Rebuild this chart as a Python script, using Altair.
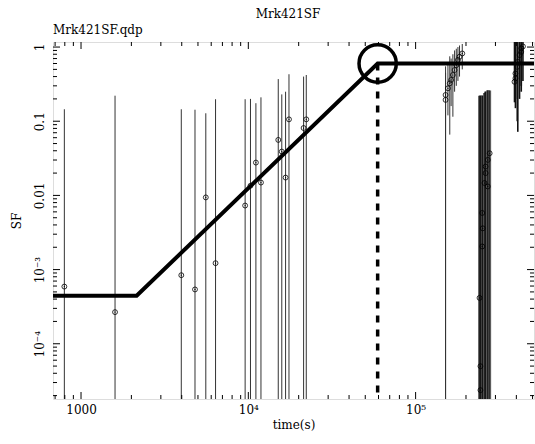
import altair as alt
import pandas as pd

# ---- structure-function points (time lag in s, SF value, error-bar ends) ----
FLOOR = 1e-6  # lower error ends that fall below the plotted range

left_t = [795, 1597, 3975, 4800, 5570, 6370, 9570, 10300, 11100, 11900,
          15100, 15850, 16700, 17500, 21400, 22200]
left_sf = [5.9e-4, 2.67e-4, 8.4e-4, 5.4e-4, 9.4e-3, 1.22e-3, 7.3e-3, 0.0135,
           0.0277, 0.0149, 0.056, 0.039, 0.0174, 0.106, 0.081, 0.106]
left_hi = [0.145, 0.221, 0.145, 0.143, 0.128, 0.198, 0.198, 0.2, 0.175, 0.21,
           0.37, 0.23, 0.25, 0.43, 0.40, 0.42]

a_t = [1.51e5, 1.51e5, 1.56e5, 1.60e5, 1.63e5, 1.67e5, 1.71e5, 1.75e5, 1.79e5, 1.83e5, 1.90e5]
a_sf = [0.194, 0.226, 0.278, 0.324, 0.36, 0.42, 0.49, 0.57, 0.67, 0.74, 0.82]
a_lo = [FLOOR, FLOOR, 0.12, 0.066, 0.16, 0.115, 0.25, 0.3, 0.35, 0.4, 0.5]
a_hi = [0.45, 0.55, 0.6, 0.75, 0.7, 0.8, 0.9, 0.95, 1.0, 1.05, 1.1]

b_t = [2.77e5, 2.70e5, 2.62e5, 2.62e5, 2.58e5, 2.70e5, 2.50e5, 2.52e5, 2.50e5, 2.41e5, 2.44e5, 2.44e5]
b_sf = [0.037, 0.0301, 0.0245, 0.020, 0.0147, 0.0132, 5.8e-3, 3.6e-3, 2.05e-3, 4.15e-4, 4.98e-5, 2.37e-5]
b_hi = [0.26, 0.26, 0.25, 0.25, 0.24, 0.26, 0.22, 0.22, 0.22, 0.22, 0.22, 0.22]

c_t = [4.38e5, 4.28e5, 4.28e5, 4.18e5, 4.08e5, 4.05e5, 3.95e5, 3.95e5, 3.90e5]
c_sf = [1.02, 0.96, 0.86, 0.78, 0.63, 0.54, 0.44, 0.38, 0.34]
c_lo = [0.35, 0.3, 0.25, 0.2, 0.072, 0.1, 0.15, 0.2, 0.18]
c_hi = [1.3, 1.3, 1.3, 1.3, 1.3, 1.3, 1.3, 1.3, 1.3]

# ---- broken power-law model ----
model_t = [680, 2150, 59300, 5.1e5]
model_sf = [4.43e-4, 4.43e-4, 0.60, 0.60]
break_t = 59300
break_sf = 0.60

# ---- axis ticks ----
x_major = [1000, 1e4, 1e5]
x_minor = [700, 800, 900] + [m * 1000 for m in range(2, 10)] + \
          [m * 1e4 for m in range(2, 10)] + [m * 1e5 for m in range(2, 6)]
y_major = [1e-4, 1e-3, 1e-2, 0.1, 1]
y_minor = [m * 1e-5 for m in range(2, 10)] + [m * 1e-4 for m in range(2, 10)] + \
          [m * 1e-3 for m in range(2, 10)] + [m * 1e-2 for m in range(2, 10)] + \
          [m * 1e-1 for m in range(2, 10)]

pts = pd.concat([
    pd.DataFrame({"t": left_t, "sf": left_sf, "lo": [FLOOR] * len(left_t), "hi": left_hi, "grp": "L"}),
    pd.DataFrame({"t": a_t, "sf": a_sf, "lo": a_lo, "hi": a_hi, "grp": "A"}),
    pd.DataFrame({"t": b_t, "sf": b_sf, "lo": [FLOOR] * len(b_t), "hi": b_hi, "grp": "B"}),
    pd.DataFrame({"t": c_t, "sf": c_sf, "lo": c_lo, "hi": c_hi, "grp": "C"}),
], ignore_index=True)
model = pd.DataFrame({"t": model_t, "sf": model_sf})
brk = pd.DataFrame({"t": [break_t], "sf": [break_sf], "lo": [FLOOR]})

FONT = "DejaVu Serif"
W, H = 481, 357

xs = alt.Scale(type="log", domain=[680, 5.1e5], nice=False)
ys = alt.Scale(type="log", domain=[1.8e-5, 1.17], nice=False)

x_axis = alt.Axis(values=x_major, ticks=False, domain=False, grid=False,
                  labelExpr="datum.value == 1000 ? '1000' : datum.value == 10000 ? '10⁴' : '10⁵'",
                  labelFont=FONT, labelFontSize=12, labelColor="black", labelPadding=5,
                  title="time(s)", titleFont=FONT, titleFontSize=12, titleFontWeight="normal",
                  titleColor="black", titlePadding=4)
y_axis = alt.Axis(values=y_major, ticks=False, domain=False, grid=False,
                  labelExpr="datum.value == 1 ? '1' : datum.value == 0.1 ? '0.1' : datum.value == 0.01 ? '0.01' : datum.value == 0.001 ? '10⁻³' : '10⁻⁴'",
                  labelAngle=270, labelAlign="center", labelBaseline="bottom",
                  labelFont=FONT, labelFontSize=12, labelColor="black", labelPadding=7,
                  title="SF", titleFont=FONT, titleFontSize=12, titleFontWeight="normal",
                  titleColor="black", titlePadding=10)


def X(f):
    return alt.X(f"{f}:Q", scale=xs, axis=x_axis)


def Y(f):
    return alt.Y(f"{f}:Q", scale=ys, axis=y_axis)


base = alt.Chart(pts)

bars_thin = base.mark_rule(clip=True, color="#333", strokeWidth=1).encode(
    x=X("t"), y=Y("lo"), y2="hi:Q").transform_filter("datum.grp == 'L' || datum.grp == 'A'")
bars_b_wide = base.mark_rule(clip=True, color="#666", strokeWidth=3).encode(
    x=X("t"), y=Y("lo"), y2="hi:Q").transform_filter("datum.grp == 'B'")
bars_b = base.mark_rule(clip=True, color="#111", strokeWidth=0.8).encode(
    x=X("t"), y=Y("lo"), y2="hi:Q").transform_filter("datum.grp == 'B'")
bars_c = base.mark_rule(clip=True, color="#111", strokeWidth=1.6).encode(
    x=X("t"), y=Y("lo"), y2="hi:Q").transform_filter("datum.grp == 'C'")

circles = base.mark_point(shape="circle", filled=False, color="black", size=24, opacity=1,
                          strokeWidth=0.8, clip=True).encode(x=X("t"), y=Y("sf"))
dots = base.mark_point(shape="circle", filled=True, color="black", size=1.5, opacity=1,
                       clip=True).encode(x=X("t"), y=Y("sf"))

model_line = alt.Chart(model).mark_line(color="black", strokeWidth=4, clip=True).encode(
    x=X("t"), y=Y("sf"))
drop = alt.Chart(brk).mark_rule(color="black", strokeWidth=3.5, strokeDash=[7, 7], clip=True).encode(
    x=X("t"), y=Y("sf"), y2="lo:Q")
ring = alt.Chart(brk).mark_point(shape="circle", filled=False, color="black", size=1390, opacity=1,
                                 strokeWidth=3.5).encode(x=X("t"), y=Y("sf"))

# inward frame ticks on all four sides
xmaj = alt.Chart(pd.DataFrame({"v": x_major}))
xmin = alt.Chart(pd.DataFrame({"v": x_minor}))
ymaj = alt.Chart(pd.DataFrame({"v": y_major}))
ymin = alt.Chart(pd.DataFrame({"v": y_minor}))
tk = dict(color="black", strokeWidth=1)
ticks = [
    xmaj.mark_rule(**tk).encode(x=X("v"), y=alt.value(H), y2=alt.value(H - 7)),
    xmaj.mark_rule(**tk).encode(x=X("v"), y=alt.value(0), y2=alt.value(7)),
    xmin.mark_rule(**tk).encode(x=X("v"), y=alt.value(H), y2=alt.value(H - 4)),
    xmin.mark_rule(**tk).encode(x=X("v"), y=alt.value(0), y2=alt.value(4)),
    ymaj.mark_rule(**tk).encode(y=Y("v"), x=alt.value(0), x2=alt.value(7)),
    ymaj.mark_rule(**tk).encode(y=Y("v"), x=alt.value(W), x2=alt.value(W - 7)),
    ymin.mark_rule(**tk).encode(y=Y("v"), x=alt.value(0), x2=alt.value(4)),
    ymin.mark_rule(**tk).encode(y=Y("v"), x=alt.value(W), x2=alt.value(W - 4)),
]

title = alt.Chart(pd.DataFrame({"s": ["Mrk421SF"]})).mark_text(
    font=FONT, fontSize=12, color="black", align="center", baseline="middle").encode(
    text="s:N", x=alt.value(235), y=alt.value(-28))
subtitle = alt.Chart(pd.DataFrame({"s": ["Mrk421SF.qdp"]})).mark_text(
    font=FONT, fontSize=12, color="black", align="left", baseline="middle").encode(
    text="s:N", x=alt.value(0), y=alt.value(-12))

chart = alt.layer(
    bars_thin, bars_b_wide, bars_b, bars_c, circles, dots,
    model_line, drop, ring, *ticks, title, subtitle
).properties(
    width=W, height=H,
    autosize=alt.AutoSizeParams(type="none"),
    padding={"left": 53, "top": 42, "right": 1, "bottom": 45},
).configure_view(stroke="black", strokeWidth=1).configure(background="white")

chart.save("out.html", embed_options={"renderer": "svg", "actions": False})
